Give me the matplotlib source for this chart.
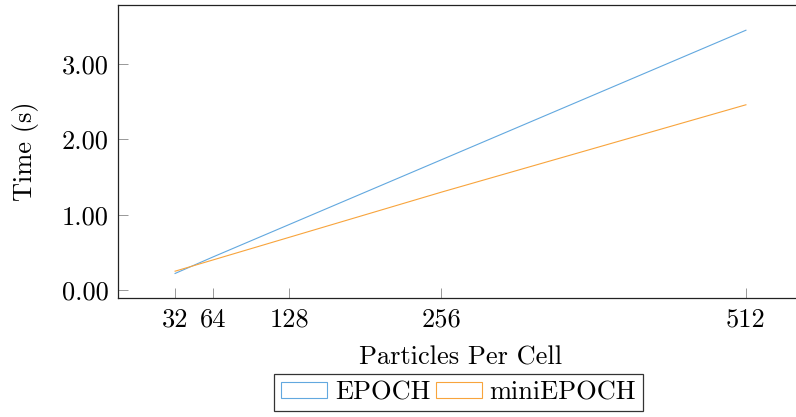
import matplotlib
matplotlib.use("Agg")
import matplotlib.pyplot as plt
from matplotlib.patches import Patch

ppc = [32, 64, 128, 256, 512]
epoch = [0.22, 0.44, 0.87, 1.73, 3.45]
miniepoch = [0.25, 0.40, 0.70, 1.30, 2.46]
xtick_labels = ["32", "64", "128", "256", "512"]
yticks = [0.0, 1.0, 2.0, 3.0]

plt.rcParams['font.family'] = ['cmr10', 'DejaVu Serif']
plt.rcParams['mathtext.fontset'] = 'cm'
plt.rcParams['axes.formatter.use_mathtext'] = True

W, H = 796, 417
fig = plt.figure(figsize=(W / 100, H / 100), dpi=100)
left, right, bottom, top = 118, 803, 298, 5
ax = fig.add_axes([left / W, (H - bottom) / H, (right - left) / W, (bottom - top) / H])

c_blue = '#62a8df'
c_orange = '#f8a43c'
ax.plot(ppc, epoch, color=c_blue, lw=0.8)
ax.plot(ppc, miniepoch, color=c_orange, lw=0.8)

ax.set_xlim(-16, 560)
ax.set_ylim(-0.106, 3.785)
ax.set_xticks(ppc)
ax.set_xticklabels(xtick_labels)
ax.set_yticks(yticks)
ax.set_yticklabels([f"{v:.2f}" for v in yticks])
ax.tick_params(axis='both', direction='in', length=7, width=0.6, color='#888888',
               labelsize=19)
ax.tick_params(axis='x', pad=7)
ax.tick_params(axis='y', pad=7)
ax.spines['right'].set_visible(False)
for s in ['left', 'bottom', 'top']:
    ax.spines[s].set_linewidth(0.9)
    ax.spines[s].set_color('#222222')

ax.set_xlabel("Particles Per Cell", fontsize=19, labelpad=10)
ax.set_ylabel("Time (s)", fontsize=19, labelpad=16)

handles = [Patch(facecolor='none', edgecolor=c_blue, lw=0.8),
           Patch(facecolor='none', edgecolor=c_orange, lw=0.8)]
leg = fig.legend(handles, ["EPOCH", "miniEPOCH"], loc='center',
                 bbox_to_anchor=(458.5 / W, (H - 392.5) / H), ncol=2,
                 fontsize=19, frameon=True, fancybox=False, edgecolor='black',
                 handlelength=1.75, handleheight=0.5, handletextpad=0.3,
                 columnspacing=0.2, borderpad=0.25, borderaxespad=0)
leg.get_frame().set_linewidth(0.9)

fig.savefig("out.png", dpi=100)
